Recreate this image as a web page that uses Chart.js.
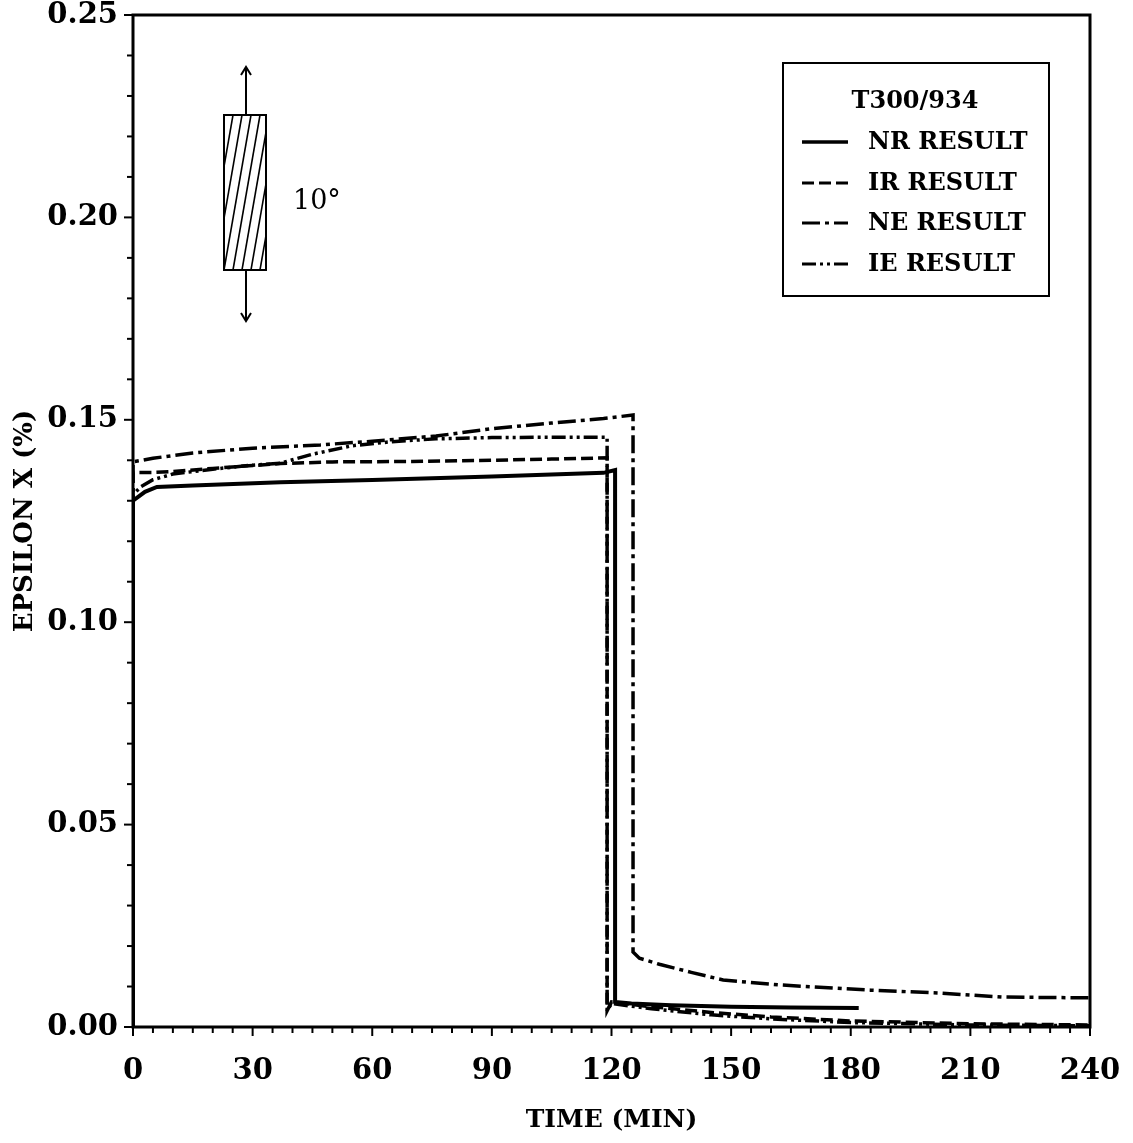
<!DOCTYPE html>
<html>
<head>
<meta charset="utf-8">
<script src="https://cdn.jsdelivr.net/npm/chart.js@4.4.1/dist/chart.umd.min.js"></script>
<style>
  html, body { margin: 0; padding: 0; background: #fff; }
</style>
</head>
<body>
<canvas id="strainChart" width="1133" height="1143"></canvas>
<script>
// time in minutes, strain in percent
const nrTime = [0, 0, 3, 6, 15, 37, 60, 90, 118, 120.9, 120.9, 125, 135, 150, 165, 182];
const nrStrain = [0, 0.1300, 0.1322, 0.1334, 0.1338, 0.1346, 0.1351, 0.1360, 0.1369, 0.1376, 0.0062, 0.0058, 0.0054, 0.0050, 0.0048, 0.0047];

const irTime = [0, 0, 5, 10, 20, 30, 37, 50, 70, 90, 105, 118.9, 118.9, 120, 130, 145, 160, 180, 210, 240];
const irStrain = [0, 0.1370, 0.1370, 0.1372, 0.1380, 0.1387, 0.1392, 0.1396, 0.1397, 0.1400, 0.1403, 0.1406, 0.0040, 0.0062, 0.0050, 0.0036, 0.0025, 0.0015, 0.0008, 0.0005];

const neTime = [0, 0, 5, 15, 30, 47, 60, 76, 90, 105, 118, 125.4, 125.4, 127, 132, 140, 148, 162, 185, 202, 218, 240];
const neStrain = [0, 0.1396, 0.1405, 0.1418, 0.1430, 0.1438, 0.1447, 0.1460, 0.1478, 0.1492, 0.1503, 0.1512, 0.0185, 0.0170, 0.0155, 0.0135, 0.0116, 0.0104, 0.0091, 0.0084, 0.0074, 0.0072];

const ieTime = [0, 0, 2, 5, 10, 20, 30, 37, 45, 55, 65, 76, 90, 105, 118.9, 118.9, 120, 130, 145, 160, 180, 210, 240];
const ieStrain = [0, 0.1315, 0.1335, 0.1352, 0.1366, 0.1378, 0.1388, 0.1393, 0.1415, 0.1436, 0.1446, 0.1453, 0.1456, 0.1457, 0.1457, 0.0040, 0.0058, 0.0045, 0.0030, 0.0020, 0.0011, 0.0005, 0.0003];

const seriesNames = ['NR RESULT', 'IR RESULT', 'NE RESULT', 'IE RESULT'];
const legendTitle = 'T300/934';
const fiberAngle = '10°';

const dashes = [[], [12, 5], [18, 5, 4, 5], [14, 4, 3, 4, 3, 4]];
const widths = [4, 3.5, 3.5, 3.5];

function toPoints(xs, ys) {
    return xs.map(function (x, i) { return { x: x, y: ys[i] }; });
}

const allData = [
    toPoints(nrTime, nrStrain),
    toPoints(irTime, irStrain),
    toPoints(neTime, neStrain),
    toPoints(ieTime, ieStrain)
];

const serif = "'DejaVu Serif', 'Liberation Serif', serif";

// frame, minor ticks, legend box and specimen sketch
const extras = {
    id: 'extras',
    afterDraw: function (chart) {
        const ctx = chart.ctx;
        const a = chart.chartArea;
        const xs = chart.scales.x;
        const ys = chart.scales.y;
        ctx.save();
        ctx.strokeStyle = '#000';
        ctx.fillStyle = '#000';

        // frame
        ctx.lineWidth = 3;
        ctx.strokeRect(a.left, a.top, a.right - a.left, a.bottom - a.top);

        // ticks
        ctx.lineWidth = 2;
        for (let v = 0; v <= 240; v += 5) {
            const px = xs.getPixelForValue(v);
            const len = v % 30 === 0 ? 9 : 6;
            ctx.beginPath();
            ctx.moveTo(px, a.bottom);
            ctx.lineTo(px, a.bottom + len);
            ctx.stroke();
        }
        for (let i = 0; i <= 25; i++) {
            const py = ys.getPixelForValue(i / 100);
            const len = i % 5 === 0 ? 9 : 6;
            ctx.beginPath();
            ctx.moveTo(a.left, py);
            ctx.lineTo(a.left - len, py);
            ctx.stroke();
        }

        // legend
        const bx = 783, by = 63, bw = 266, bh = 233;
        ctx.lineWidth = 2;
        ctx.strokeRect(bx, by, bw, bh);
        ctx.font = 'bold 24px ' + serif;
        ctx.textBaseline = 'middle';
        ctx.textAlign = 'center';
        ctx.fillText(legendTitle, 915, 102);
        ctx.textAlign = 'left';
        const rows = [142, 183, 223, 264];
        seriesNames.forEach(function (name, i) {
            ctx.beginPath();
            ctx.setLineDash(dashes[i]);
            ctx.lineWidth = widths[i] - 0.5;
            ctx.moveTo(802, rows[i]);
            ctx.lineTo(848, rows[i]);
            ctx.stroke();
            ctx.setLineDash([]);
            ctx.fillText(name, 868, rows[i] + 1);
        });

        // specimen sketch
        const rx = 224, ry = 115, rw = 42, rh = 155;
        ctx.lineWidth = 2;
        ctx.save();
        ctx.beginPath();
        ctx.rect(rx, ry, rw, rh);
        ctx.clip();
        ctx.lineWidth = 1.6;
        for (let k = -3; k < 7; k++) {
            const x0 = rx + k * 9;
            ctx.beginPath();
            ctx.moveTo(x0, ry + rh);
            ctx.lineTo(x0 + 27, ry);
            ctx.stroke();
        }
        ctx.restore();
        ctx.lineWidth = 2;
        ctx.strokeRect(rx, ry, rw, rh);
        const cx = 246;
        ctx.beginPath();
        ctx.moveTo(cx, ry);
        ctx.lineTo(cx, 67);
        ctx.moveTo(cx - 5, 75);
        ctx.lineTo(cx, 67);
        ctx.lineTo(cx + 5, 75);
        ctx.moveTo(cx, ry + rh);
        ctx.lineTo(cx, 321);
        ctx.moveTo(cx - 5, 313);
        ctx.lineTo(cx, 321);
        ctx.lineTo(cx + 5, 313);
        ctx.stroke();
        ctx.font = '27px ' + serif;
        ctx.textAlign = 'left';
        ctx.fillText(fiberAngle, 293, 202);

        ctx.restore();
    }
};

new Chart(document.getElementById('strainChart'), {
    type: 'line',
    data: {
        datasets: allData.map(function (pts, i) {
            return {
                label: seriesNames[i],
                data: pts,
                borderColor: '#000',
                borderWidth: widths[i],
                borderDash: dashes[i],
                pointRadius: 0,
                tension: 0,
                fill: false
            };
        })
    },
    options: {
        responsive: false,
        animation: false,
        layout: { padding: { left: 0, right: 43, top: 15, bottom: 0 } },
        plugins: {
            legend: { display: false },
            tooltip: { enabled: false }
        },
        scales: {
            x: {
                type: 'linear',
                min: 0,
                max: 240,
                afterFit: function (s) {
                    s.height = 116;
                    s.paddingLeft = 0;
                    s.paddingRight = 0;
                },
                grid: { display: true, drawOnChartArea: false, drawTicks: false },
                border: { display: false },
                ticks: {
                    stepSize: 30,
                    padding: 27,
                    color: '#000',
                    font: { family: serif, size: 29, weight: 'bold' }
                },
                title: {
                    display: true,
                    text: 'TIME (MIN)',
                    color: '#000',
                    padding: { top: 0, bottom: 8 },
                    font: { family: serif, size: 25, weight: 'bold' }
                }
            },
            y: {
                min: 0,
                max: 0.25,
                afterFit: function (s) {
                    s.width = 133;
                    s.paddingTop = 0;
                    s.paddingBottom = 0;
                },
                grid: { display: true, drawOnChartArea: false, drawTicks: false },
                border: { display: false },
                ticks: {
                    stepSize: 0.05,
                    padding: 15,
                    color: '#000',
                    font: { family: serif, size: 29, weight: 'bold' },
                    callback: function (v) { return v.toFixed(2); }
                },
                title: {
                    display: true,
                    text: 'EPSILON X (%)',
                    color: '#000',
                    padding: { top: 10, bottom: 0 },
                    font: { family: serif, size: 26, weight: 'bold' }
                }
            }
        }
    },
    plugins: [extras]
});
</script>
</body>
</html>
